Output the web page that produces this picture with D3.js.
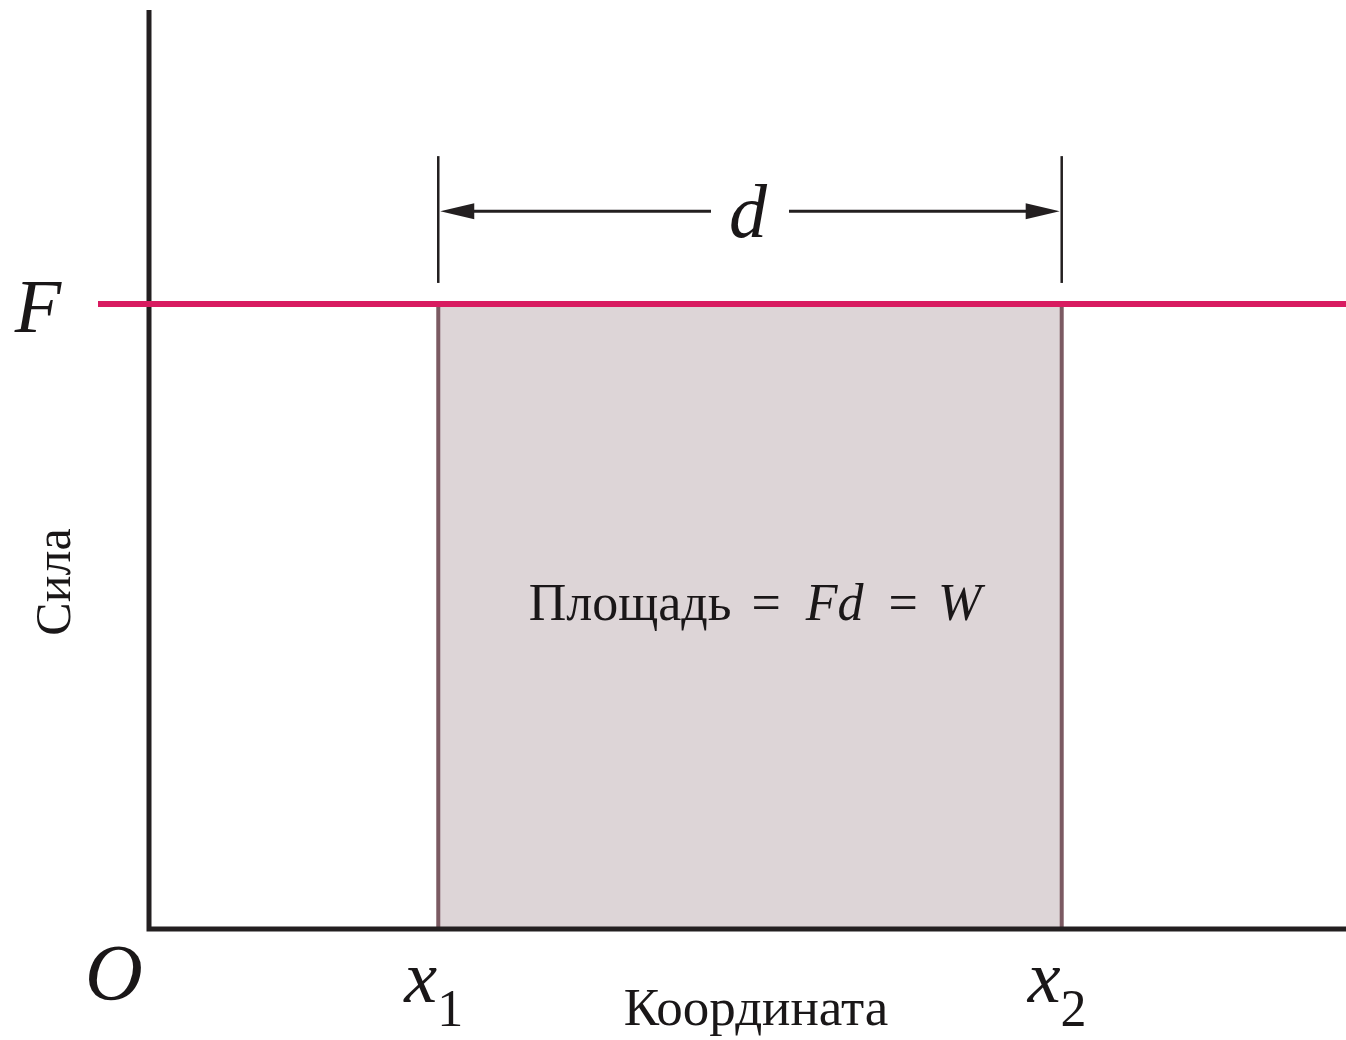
<!DOCTYPE html>
<html>
<head>
<meta charset="utf-8">
<script src="https://cdn.jsdelivr.net/npm/d3@7"></script>
<style>
  body { margin: 0; background: #fff; }
  text { font-family: "Liberation Serif", "DejaVu Serif", serif; fill: #1a1718; }
</style>
</head>
<body>
<div id="chart"></div>
<script>
// diagram values (arbitrary units)
const xLimits = [0, 12];
const yLimits = [0, 10];
const force = 6.8;
const positions = [{ name: 'x', sub: '1', value: 2.9 }, { name: 'x', sub: '2', value: 9.15 }];
const dimBar = { lo: 7.03, hi: 8.41, arrow: 7.81 };
const labels = { x: 'Координата', y: 'Сила', origin: 'O', force: 'F', dist: 'd' };
const equation = [
  { t: 'Площадь', italic: false, dx: 0 },
  { t: '=', italic: false, dx: 20 },
  { t: 'Fd', italic: true, dx: 25 },
  { t: '=', italic: false, dx: 25 },
  { t: 'W', italic: true, dx: 20 }
];

const width = 1346, height = 1040;
const margin = { top: 10, right: 0, bottom: 111, left: 149 };

const svg = d3.select('#chart').append('svg')
  .attr('width', width)
  .attr('height', height);

const x = d3.scaleLinear().domain(xLimits).range([margin.left, width - margin.right]);
const y = d3.scaleLinear().domain(yLimits).range([height - margin.bottom, margin.top]);

const x1 = x(positions[0].value), x2 = x(positions[1].value);

// shaded work area
svg.append('rect')
  .attr('x', x1).attr('y', y(force))
  .attr('width', x2 - x1).attr('height', y(0) - y(force))
  .attr('fill', '#ddd5d7');

svg.selectAll('.side').data(positions).join('line')
  .attr('x1', d => x(d.value)).attr('x2', d => x(d.value))
  .attr('y1', y(force)).attr('y2', y(0))
  .attr('stroke', '#7b5a62').attr('stroke-width', 4);

// axes
svg.append('path')
  .attr('d', `M${x(0)},${y(yLimits[1])}V${y(0)}H${x(xLimits[1])}`)
  .attr('fill', 'none')
  .attr('stroke', '#231f20')
  .attr('stroke-width', 5);

// constant force line
svg.append('line')
  .attr('x1', x(0) - 51).attr('x2', x(xLimits[1]))
  .attr('y1', y(force)).attr('y2', y(force))
  .attr('stroke', '#d81b60').attr('stroke-width', 6);

// dimension d
svg.selectAll('.dim').data(positions).join('line')
  .attr('x1', d => x(d.value)).attr('x2', d => x(d.value))
  .attr('y1', y(dimBar.hi)).attr('y2', y(dimBar.lo))
  .attr('stroke', '#231f20').attr('stroke-width', 2.5);

const ay = y(dimBar.arrow);
const mid = (x1 + x2) / 2;
const gap = 39, head = 34, half = 8;
svg.append('line')
  .attr('x1', x1 + head).attr('x2', mid - gap)
  .attr('y1', ay).attr('y2', ay)
  .attr('stroke', '#231f20').attr('stroke-width', 3);
svg.append('line')
  .attr('x1', mid + gap).attr('x2', x2 - head)
  .attr('y1', ay).attr('y2', ay)
  .attr('stroke', '#231f20').attr('stroke-width', 3);
svg.append('path')
  .attr('d', `M${x1 + 2},${ay}L${x1 + head + 2},${ay - half}L${x1 + head + 2},${ay + half}Z`)
  .attr('fill', '#231f20');
svg.append('path')
  .attr('d', `M${x2 - 2},${ay}L${x2 - head - 2},${ay - half}L${x2 - head - 2},${ay + half}Z`)
  .attr('fill', '#231f20');

svg.append('text')
  .attr('x', mid - 2).attr('y', ay + 26)
  .attr('text-anchor', 'middle')
  .attr('font-size', 76).attr('font-style', 'italic')
  .text(labels.dist);

// F label
svg.append('text')
  .attr('x', 38).attr('y', y(force) + 28)
  .attr('text-anchor', 'middle')
  .attr('font-size', 76).attr('font-style', 'italic')
  .text(labels.force);

// origin
svg.append('text')
  .attr('x', 114).attr('y', 1000)
  .attr('text-anchor', 'middle')
  .attr('font-size', 80).attr('font-style', 'italic')
  .text(labels.origin);

// x1, x2 labels
const pos = svg.selectAll('.pos').data(positions).join('text')
  .attr('x', d => x(d.value) - 34).attr('y', 1002)
  .attr('font-size', 74);
pos.append('tspan').attr('font-style', 'italic').text(d => d.name);
pos.append('tspan').attr('dy', 24).attr('font-size', 52).text(d => d.sub);

// axis titles
svg.append('text')
  .attr('x', 756).attr('y', 1025)
  .attr('text-anchor', 'middle')
  .attr('font-size', 53)
  .text(labels.x);

svg.append('text')
  .attr('transform', 'translate(70,582) rotate(-90)')
  .attr('text-anchor', 'middle')
  .attr('font-size', 50)
  .text(labels.y);

// area equation
const eq = svg.append('text')
  .attr('x', 755).attr('y', 620)
  .attr('text-anchor', 'middle')
  .attr('font-size', 52);
eq.selectAll('tspan').data(equation).join('tspan')
  .attr('dx', d => d.dx)
  .attr('font-style', d => d.italic ? 'italic' : null)
  .text(d => d.t);
</script>
</body>
</html>
